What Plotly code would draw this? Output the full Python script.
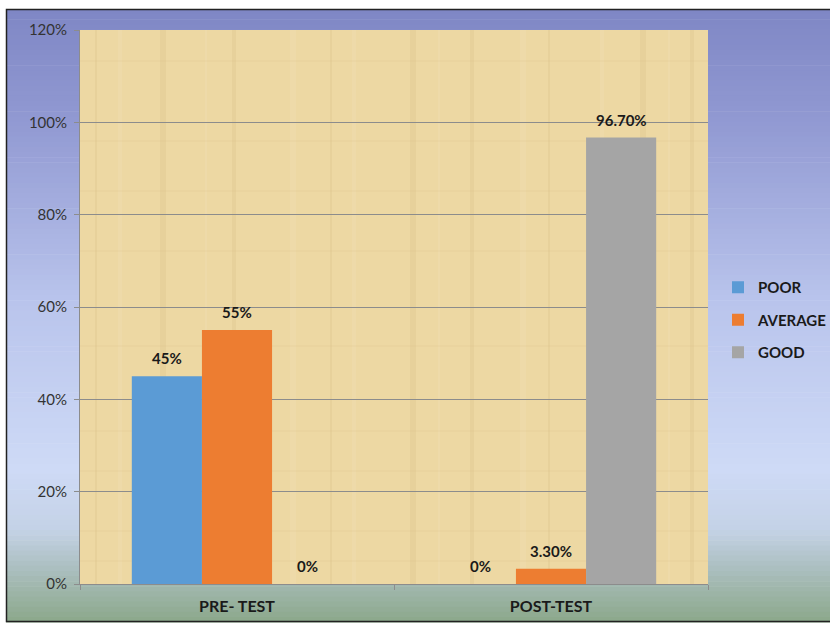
import plotly.graph_objects as go

categories = ["PRE- TEST", "POST-TEST"]
series_names = ["POOR", "AVERAGE", "GOOD"]
poor = [0.45, 0.0]
average = [0.55, 0.033]
good = [0.0, 0.967]
poor_labels = ["45%", "0%"]
average_labels = ["55%", "3.30%"]
good_labels = ["0%", "96.70%"]
colors = ["#5B9BD5", "#ED7D31", "#A5A5A5"]
y_tick_vals = [0, 0.2, 0.4, 0.6, 0.8, 1.0, 1.2]
y_tick_text = ["0%", "20%", "40%", "60%", "80%", "100%", "120%"]

FONT = "Lato, 'Open Sans', sans-serif"

# Geometry of the plot area in pixels
W, H = 830, 627
L, R, T, B = 80, 122, 30, 43
pw, ph = W - L - R, H - T - B
BARGAP = 0.33

def px_x(x):
    return (x - L) / pw

def px_y(y):
    return (H - B - y) / ph

fig = go.Figure()
series_vals = [poor, average, good]
series_labels = [poor_labels, average_labels, good_labels]
annotations = []
bar_px = pw / len(categories) * (1 - BARGAP) / len(series_names)
for si, (name, vals, labels, col) in enumerate(zip(series_names, series_vals, series_labels, colors)):
    fig.add_trace(go.Bar(
        name=name, x=categories, y=vals,
        marker=dict(color=col, line=dict(width=0)),
        legendgroup=name,
    ))
    for cat, v, lab in zip(categories, vals, labels):
        annotations.append(dict(
            x=cat, y=v, xref="x", yref="y", text=lab, showarrow=False,
            yanchor="bottom", xanchor="center", yshift=7,
            xshift=(si - (len(series_names) - 1) / 2) * bar_px,
            font=dict(family=FONT, size=15, color="#1a1a1a", weight="bold")))

shapes = []
# Background gradient (top blue-violet to light lavender to grey-green)
stops = [(9, (127, 135, 197)), (120, (145, 153, 210)), (300, (185, 196, 236)),
         (470, (206, 218, 246)), (530, (196, 210, 230)), (570, (170, 190, 190)),
         (622, (140, 168, 138))]
steps = 120
y0p, y1p = 9, 622
for i in range(steps):
    ya = y0p + (y1p - y0p) * i / steps
    yb = y0p + (y1p - y0p) * (i + 1) / steps
    ym = (ya + yb) / 2
    for j in range(len(stops) - 1):
        if stops[j][0] <= ym <= stops[j + 1][0]:
            t = (ym - stops[j][0]) / (stops[j + 1][0] - stops[j][0])
            c = tuple(int(round(stops[j][1][k] + t * (stops[j + 1][1][k] - stops[j][1][k]))) for k in range(3))
            break
    shapes.append(dict(type="rect", xref="paper", yref="paper", layer="below",
                       x0=px_x(6), x1=px_x(832), y0=px_y(yb + 0.6), y1=px_y(ya),
                       fillcolor="rgb(%d,%d,%d)" % c, line=dict(width=0)))

# Papyrus-like plot area
shapes.append(dict(type="rect", xref="paper", yref="paper", layer="below",
                   x0=0, x1=1, y0=0, y1=px_y(30), fillcolor="#EDD8A3", line=dict(width=0)))
stripe_x = [95, 118, 160, 205, 232, 290, 330, 352, 410, 438, 470, 520, 548, 600, 640, 668, 690]
for k, sx in enumerate(stripe_x):
    shapes.append(dict(type="rect", xref="paper", yref="paper", layer="below",
                       x0=px_x(sx), x1=px_x(sx + 2 + (k % 3) * 2), y0=0, y1=px_y(30),
                       fillcolor="#C9AC6A" if k % 2 == 0 else "#F7EACB",
                       opacity=0.14, line=dict(width=0)))
stripe_y = [60, 140, 190, 250, 345, 430, 470, 530, 560]
for k, sy in enumerate(stripe_y):
    shapes.append(dict(type="rect", xref="paper", yref="paper", layer="below",
                       x0=0, x1=1, y0=px_y(sy + 2), y1=px_y(sy),
                       fillcolor="#D7BD83", opacity=0.12, line=dict(width=0)))
# Outer frame
shapes.append(dict(type="rect", xref="paper", yref="paper", layer="above",
                   x0=px_x(6.5), x1=px_x(835), y0=px_y(621.5), y1=px_y(9.5),
                   fillcolor="rgba(0,0,0,0)", line=dict(color="#222222", width=1.5)))

fig.update_layout(
    width=W, height=H,
    margin=dict(l=L, r=R, t=T, b=B, autoexpand=False),
    paper_bgcolor="white", plot_bgcolor="rgba(0,0,0,0)",
    barmode="group", bargap=BARGAP, bargroupgap=0,
    font=dict(family=FONT, size=15, color="#333333"),
    shapes=shapes, annotations=annotations,
    showlegend=True,
    legend=dict(x=px_x(718), y=px_y(320), yanchor="middle", xanchor="left",
                bgcolor="rgba(0,0,0,0)", tracegroupgap=10,
                font=dict(family=FONT, size=15, color="#1a1a1a", weight="bold")),
)
fig.update_yaxes(range=[0, 1.2], tickvals=y_tick_vals, ticktext=y_tick_text,
                 showgrid=True, gridcolor="#8C8C8C", gridwidth=1,
                 showline=True, linecolor="#8C8C8C", linewidth=1,
                 ticks="outside", ticklen=5, tickcolor="#8C8C8C",
                 ticklabelstandoff=4,
                 tickfont=dict(family=FONT, size=15, color="#333333"),
                 zeroline=False, fixedrange=True)
fig.update_xaxes(showline=True, linecolor="#8C8C8C", linewidth=1,
                 ticks="outside", tickson="boundaries", ticklen=5, tickcolor="#8C8C8C",
                 ticklabelstandoff=8,
                 tickfont=dict(family=FONT, size=16, color="#1a1a1a", weight="bold"),
                 showgrid=False, fixedrange=True)

fig.write_html("out.html", config={"displayModeBar": False},
               post_script="document.body.style.margin='0';document.body.style.overflow='hidden';")
